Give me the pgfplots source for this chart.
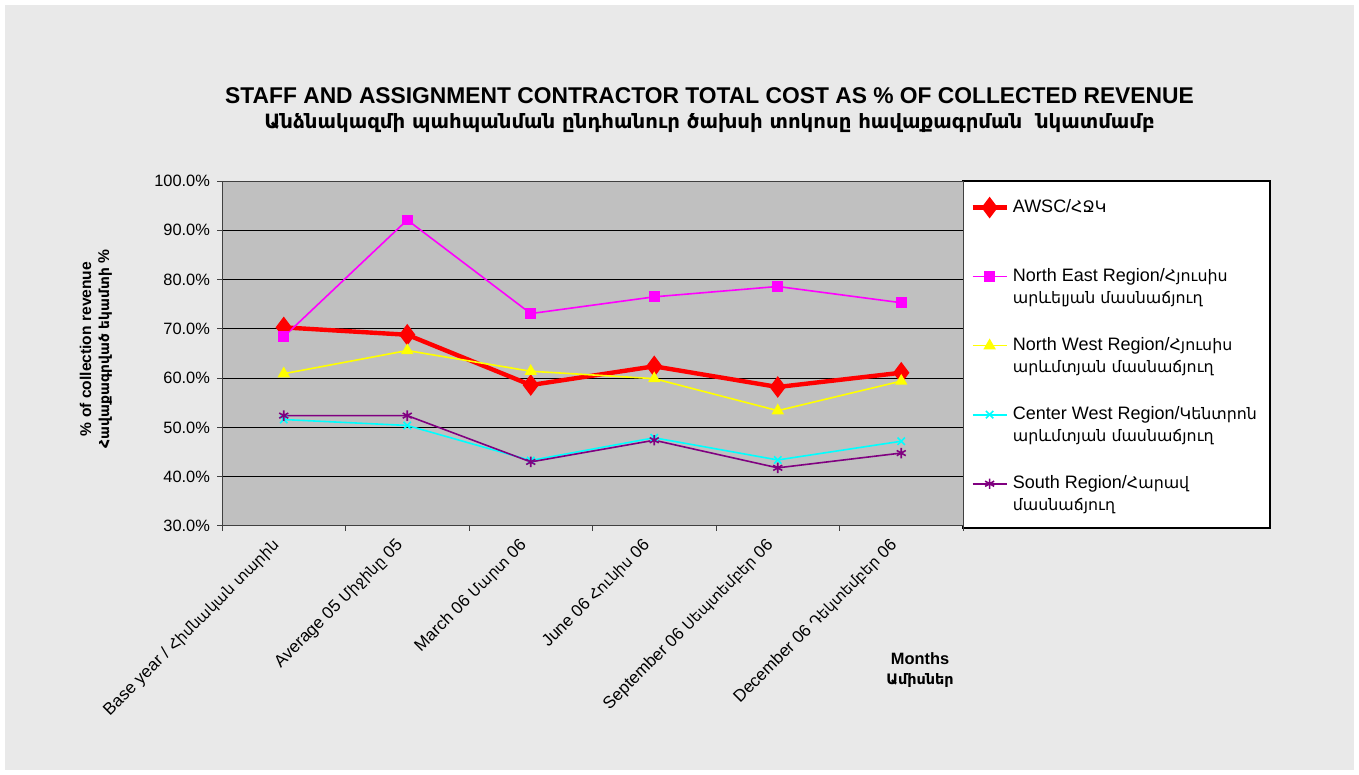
\documentclass[border=0pt]{standalone}
\usepackage{fontspec}
\setmainfont{Liberation Sans}
\newfontfamily\arm{DejaVu Sans}[Scale=0.88]
\usepackage{pgfplots}
\pgfplotsset{compat=1.18}
\definecolor{pagebg}{RGB}{233,233,233}
\definecolor{plotbg}{RGB}{192,192,192}
\definecolor{swpurple}{RGB}{128,0,128}
\definecolor{swmagenta}{RGB}{255,0,255}
\definecolor{swcyan}{RGB}{0,255,255}
\definecolor{swyellow}{RGB}{255,255,0}

\begin{document}
\begin{tikzpicture}
% page and legend box (0.5pt per reference pixel)
\fill[white] (0pt,0pt) rectangle (679.5pt,387.5pt);
\fill[pagebg] (2.5pt,2.5pt) rectangle (677pt,385pt);
\draw[black, fill=white, line width=0.6pt] (481.5pt,123.5pt) rectangle (635pt,297pt);

\node[font=\bfseries\fontsize{11.4}{13}\selectfont] at (354.75pt,339.5pt)
  {STAFF AND ASSIGNMENT CONTRACTOR TOTAL COST AS \% OF COLLECTED REVENUE};
\node[font=\bfseries\fontsize{11.2}{13}\selectfont] at (354.75pt,326pt)
  {\arm Անձնակազմի պահպանման ընդհանուր ծախսի տոկոսը հավաքագրման\ \ նկատմամբ};

\node[rotate=90, align=center, font=\bfseries\fontsize{7.8}{9}\selectfont] at (48pt,213pt)
  {\% of collection revenue\\{\arm Հավաքագրված եկամտի} \%};

\node[align=center, font=\bfseries\fontsize{8.2}{10}\selectfont] at (460pt,52.5pt)
  {Months\\{\arm Ամիսներ}};

\begin{axis}[
  at={(111pt,124.5pt)}, anchor=south west,
  width=370.5pt, height=172.5pt, scale only axis,
  xmin=-0.5, xmax=5.5,
  ymin=30, ymax=100,
  axis background/.style={fill=plotbg},
  axis line style={black!75, line width=0.5pt},
  tick pos=left,
  xtick={-0.5,0.5,...,5.5}, xticklabels={},
  extra x ticks={0,1,2,3,4,5},
  extra x tick labels={
    Base year / {\arm Հիմնական տարին},
    Average 05 {\arm Միջինը} 05,
    March 06 {\arm Մարտ} 06,
    June 06 {\arm Հունիս} 06,
    September 06 {\arm Սեպտեմբեր} 06,
    December 06 {\arm Դեկտեմբեր} 06},
  extra x tick style={major tick length=0pt, grid=none},
  xticklabel style={font=\fontsize{8.5}{10}\selectfont, xshift=-1pt, yshift=-6pt, rotate=45, anchor=east},
  ytick={30,40,...,100},
  yticklabel={\pgfmathprintnumber[fixed,fixed zerofill,precision=1]{\tick}\%},
  yticklabel style={font=\fontsize{8.2}{10}\selectfont},
  /pgf/number format/assume math mode=true,
  tick align=outside, major tick length=2.5pt,
  tick style={black!75, line width=0.5pt},
  ymajorgrids, grid style={black, line width=0.5pt},
  legend style={draw=none, fill=none, inner sep=0pt, at={(1.0094,0.959)}, anchor=north west,
    font=\fontsize{9}{11}\selectfont, row sep=22.5pt},
  legend cell align=left,
]
\addplot[red, line width=2.2pt, mark=diamond*, mark size=3.6pt, mark options={solid}] coordinates {
  (0,70.3) (1,68.8) (2,58.6) (3,62.4) (4,58.2) (5,61.1)};
\addlegendentry{\parbox[t]{60mm}{AWSC/{\arm ՀՋԿ}\\\strut}}
\addplot[swmagenta, line width=0.8pt, mark=square*, mark size=2.3pt] coordinates {
  (0,68.4) (1,92.1) (2,73.1) (3,76.5) (4,78.6) (5,75.3)};
\addlegendentry{\parbox[t]{60mm}{North East Region/{\arm Հյուսիս}\\{\arm արևելյան մասնաճյուղ}}}
\addplot[swyellow, line width=0.8pt, mark=triangle*, mark size=2.8pt] coordinates {
  (0,60.9) (1,65.6) (2,61.4) (3,59.9) (4,53.4) (5,59.4)};
\addlegendentry{\parbox[t]{60mm}{North West Region/{\arm Հյուսիս}\\{\arm արևմտյան մասնաճյուղ}}}
\addplot[swcyan, line width=0.8pt, mark=x, mark size=2.6pt] coordinates {
  (0,51.6) (1,50.4) (2,43.3) (3,47.9) (4,43.4) (5,47.2)};
\addlegendentry{\parbox[t]{60mm}{Center West Region/{\arm Կենտրոն}\\{\arm արևմտյան մասնաճյուղ}}}
\addplot[swpurple, line width=0.8pt, mark=asterisk, mark size=2.6pt] coordinates {
  (0,52.4) (1,52.4) (2,43.0) (3,47.4) (4,41.8) (5,44.8)};
\addlegendentry{\parbox[t]{60mm}{South Region/{\arm Հարավ}\\{\arm մասնաճյուղ}}}
\end{axis}
\end{tikzpicture}
\end{document}
